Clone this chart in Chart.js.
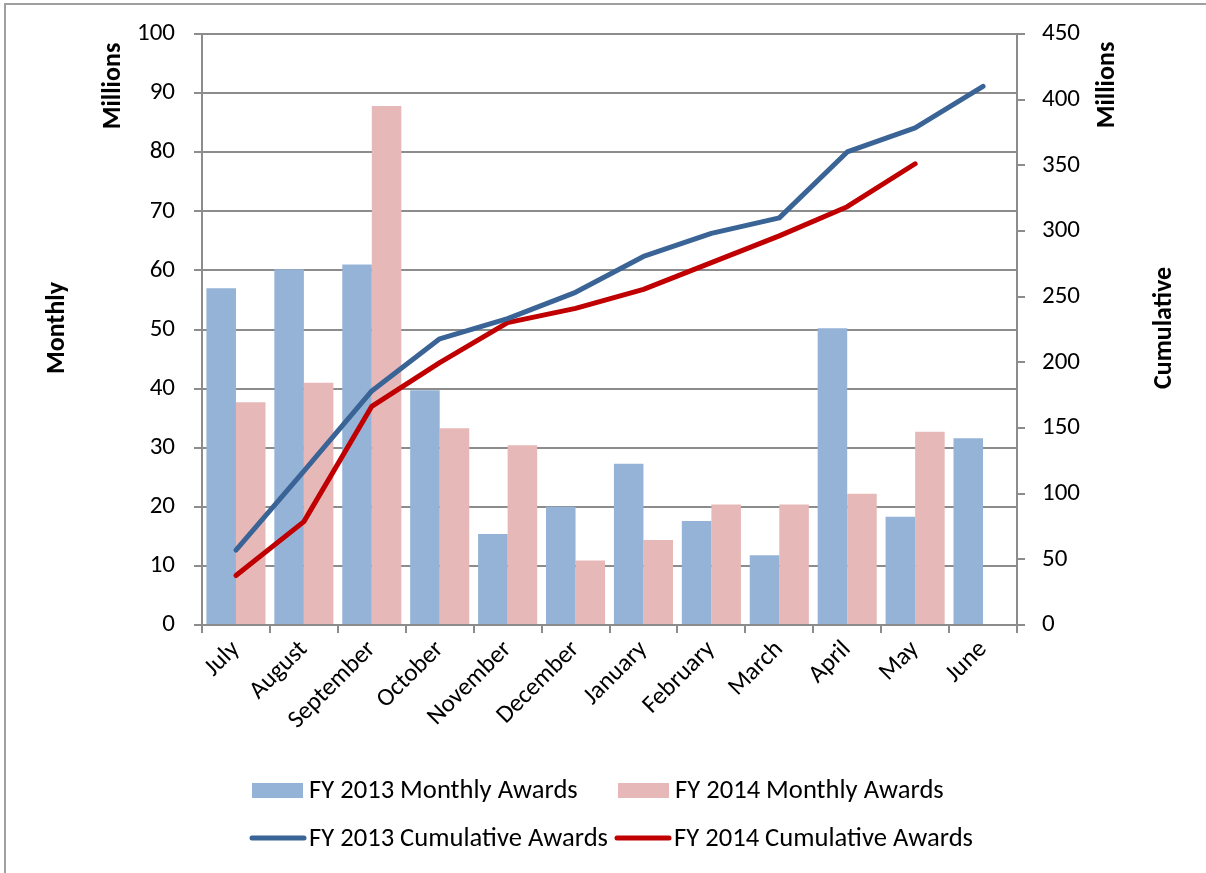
<!DOCTYPE html>
<html>
<head>
<meta charset="utf-8">
<script src="https://cdn.jsdelivr.net/npm/chart.js@4/dist/chart.umd.min.js"></script>
<style>
html,body{margin:0;padding:0;background:#fff;}
#wrap{position:relative;width:1206px;height:873px;}
</style>
</head>
<body>
<div id="wrap"><canvas id="c" width="1206" height="873"></canvas></div>
<script>
const months = ["July","August","September","October","November","December","January","February","March","April","May","June"];
const fy2013Monthly = [57.0, 60.2, 61.0, 39.7, 15.4, 20.0, 27.3, 17.6, 11.8, 50.2, 18.3, 31.6];
const fy2014Monthly = [37.7, 41.0, 87.8, 33.3, 30.4, 10.9, 14.4, 20.4, 20.4, 22.2, 32.7, null];
const fy2013Cumulative = [57.0, 117.2, 178.2, 217.9, 233.3, 253.3, 280.6, 298.2, 310.0, 360.2, 378.5, 410.1];
const fy2014Cumulative = [37.7, 78.7, 166.5, 199.8, 230.2, 241.1, 255.5, 275.9, 296.3, 318.5, 351.2, null];
const leftTicks = {min:0, max:100, step:10};
const rightTicks = {min:0, max:450, step:50};
const seriesNames = ["FY 2013 Monthly Awards","FY 2014 Monthly Awards","FY 2013 Cumulative Awards","FY 2014 Cumulative Awards"];

const C_BLUE_BAR = "#95B3D7", C_PINK_BAR = "#E6B9B8", C_BLUE_LINE = "#3A6396", C_RED_LINE = "#C00000";
const GRID = "#8C8C8C";
const FONT = "Carlito, Lato, sans-serif";

const extras = {
  id: 'extras',
  beforeDraw(chart){
    const ctx = chart.ctx;
    ctx.save();
    ctx.fillStyle = '#fff';
    ctx.fillRect(0,0,chart.width,chart.height);
    ctx.strokeStyle = '#A0A0A0';
    ctx.lineWidth = 2;
    ctx.beginPath();
    ctx.moveTo(5, chart.height+2); ctx.lineTo(5, 4); ctx.lineTo(chart.width+2, 4);
    ctx.stroke();
    ctx.restore();
  },
  afterDraw(chart){
    const ctx = chart.ctx;
    ctx.save();
    ctx.fillStyle = '#000';
    ctx.font = "bold 26px " + FONT;
    ctx.textAlign = 'center';
    ctx.textBaseline = 'middle';
    const vt = (t,x,y)=>{ctx.save();ctx.translate(x,y);ctx.rotate(-Math.PI/2);ctx.fillText(t,0,0);ctx.restore();};
    vt("Millions",113,86);
    vt("Monthly",57,328);
    vt("Millions",1107,85);
    vt("Cumulative",1164,328);
    // legend
    ctx.font = "26.6px " + FONT;
    ctx.textAlign = 'left';
    const items = [
      {t:seriesNames[0], x:252, y:790, type:'box', c:C_BLUE_BAR},
      {t:seriesNames[1], x:618, y:790, type:'box', c:C_PINK_BAR},
      {t:seriesNames[2], x:252, y:838, type:'line', c:C_BLUE_LINE},
      {t:seriesNames[3], x:617, y:838, type:'line', c:C_RED_LINE}
    ];
    items.forEach(it=>{
      if(it.type==='box'){
        ctx.fillStyle = it.c; ctx.fillRect(it.x, it.y-7, 51, 15);
      } else {
        ctx.strokeStyle = it.c; ctx.lineWidth = 5; ctx.lineCap='round';
        ctx.beginPath(); ctx.moveTo(it.x, it.y); ctx.lineTo(it.x+52, it.y); ctx.stroke();
      }
      ctx.fillStyle = '#000';
      ctx.fillText(it.t, it.x+57, it.y+1);
    });
    ctx.restore();
  }
};

new Chart(document.getElementById('c'), {
  data: {
    labels: months,
    datasets: [
      {type:'line', label:seriesNames[2], data:fy2013Cumulative, yAxisID:'y2', borderColor:C_BLUE_LINE, backgroundColor:C_BLUE_LINE, borderWidth:5, pointRadius:0, tension:0, order:0, borderCapStyle:'round', borderJoinStyle:'round'},
      {type:'line', label:seriesNames[3], data:fy2014Cumulative, yAxisID:'y2', borderColor:C_RED_LINE, backgroundColor:C_RED_LINE, borderWidth:5, pointRadius:0, tension:0, order:0, borderCapStyle:'round', borderJoinStyle:'round'},
      {type:'bar', label:seriesNames[0], data:fy2013Monthly, yAxisID:'y', backgroundColor:C_BLUE_BAR, categoryPercentage:0.87, barPercentage:1.0, order:1},
      {type:'bar', label:seriesNames[1], data:fy2014Monthly, yAxisID:'y', backgroundColor:C_PINK_BAR, categoryPercentage:0.87, barPercentage:1.0, order:1}
    ]
  },
  options: {
    responsive:false,
    animation:false,
    layout:{padding:{left:0,right:0,top:34,bottom:0}},
    plugins:{legend:{display:false}, tooltip:{enabled:false}},
    scales:{
      x:{
        offset:true,
        grid:{display:true, drawOnChartArea:false, drawTicks:true, tickLength:8, color:GRID, lineWidth:2, offset:true},
        border:{display:true, color:GRID, width:2},
        ticks:{color:'#000', font:{family:FONT, size:25}, maxRotation:45, minRotation:45, padding:2, autoSkip:false},
        afterFit(s){ s.height = 248; }
      },
      y:{
        position:'left', min:leftTicks.min, max:leftTicks.max,
        ticks:{stepSize:leftTicks.step, color:'#000', font:{family:FONT, size:25}, padding:19},
        grid:{color:GRID, lineWidth:2, tickLength:8},
        border:{display:true, color:GRID, width:2},
        afterFit(s){ s.width = 202; }
      },
      y2:{
        position:'right', min:rightTicks.min, max:rightTicks.max,
        ticks:{stepSize:rightTicks.step, color:'#000', font:{family:FONT, size:25}, padding:17},
        grid:{drawOnChartArea:false, color:GRID, lineWidth:2, tickLength:8},
        border:{display:true, color:GRID, width:2},
        afterFit(s){ s.width = 189; }
      }
    }
  },
  plugins:[extras]
});
</script>
</body>
</html>
